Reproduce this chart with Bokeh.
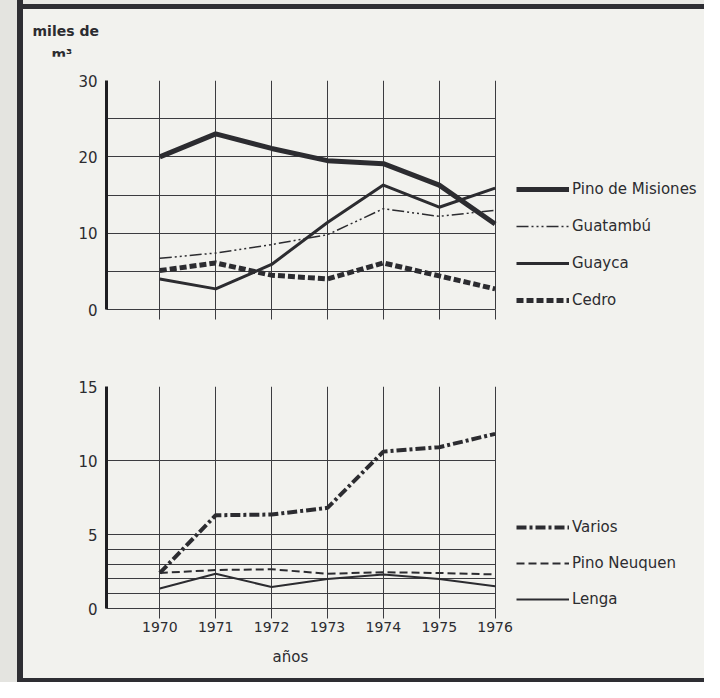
from bokeh.plotting import figure
from bokeh.layouts import row, column
from bokeh.models import (Range1d, FixedTicker, Legend, LegendItem, Title, Spacer)
from bokeh.embed import file_html
from bokeh.resources import INLINE

years = [1970, 1971, 1972, 1973, 1974, 1975, 1976]

# top panel (miles de m3)
pino_misiones = [20.0, 23.0, 21.1, 19.5, 19.1, 16.3, 11.2]
guatambu = [6.7, 7.4, 8.5, 9.8, 13.2, 12.2, 13.0]
guayca = [4.0, 2.7, 5.9, 11.4, 16.3, 13.4, 15.9]
cedro = [5.1, 6.1, 4.5, 4.0, 6.1, 4.4, 2.7]

# bottom panel
varios = [2.4, 6.3, 6.35, 6.8, 10.6, 10.9, 11.8]
pino_neuquen = [2.4, 2.6, 2.65, 2.35, 2.45, 2.4, 2.3]
lenga = [1.35, 2.35, 1.45, 2.0, 2.3, 2.0, 1.5]

top_axis_ticks = [0, 10, 20, 30]
top_grid_ticks = [0, 5, 10, 15, 20, 25, 30]
bot_axis_ticks = [0, 5, 10, 15]
bot_grid_ticks = [0, 1, 2, 3, 4, 5, 10, 15]

BG = "#f2f2ee"
INK = "#2c2c30"
GRID = "#3c3c40"
DARK = "#2e2e33"
FONT = "DejaVu Sans"


def base_fig(width, height, mbl, mbt, mbb, x0, x1, ymax, axis_ticks, grid_ticks, show_xlabels):
    p = figure(width=width, height=height, output_backend="svg", toolbar_location=None,
               x_range=Range1d(x0, x1), y_range=Range1d(0, ymax),
               min_border_left=mbl, min_border_right=0, min_border_top=mbt, min_border_bottom=mbb,
               background_fill_color=BG, border_fill_color=BG, tools="")
    p.title.visible = False
    p.outline_line_color = None
    p.xgrid.ticker = FixedTicker(ticks=years)
    p.ygrid.ticker = FixedTicker(ticks=grid_ticks)
    p.ygrid.cross_bounds = (x0, years[-1])
    for g in (p.xgrid, p.ygrid):
        g.grid_line_color = GRID
        g.grid_line_width = 1
        g.grid_line_alpha = 1
    ya = p.yaxis[0]
    ya.ticker = FixedTicker(ticks=axis_ticks)
    ya.bounds = (0, ymax)
    ya.axis_line_width = 3
    ya.axis_line_color = "#1e1e22"
    ya.major_tick_line_color = None
    ya.minor_tick_line_color = None
    ya.major_label_standoff = 3
    ya.major_label_text_font = FONT
    ya.major_label_text_font_size = "15px"
    ya.major_label_text_color = INK
    xa = p.xaxis[0]
    xa.ticker = FixedTicker(ticks=years)
    xa.bounds = (x0, years[-1])
    xa.axis_line_color = GRID
    xa.axis_line_width = 1
    xa.major_tick_line_color = GRID
    xa.major_tick_out = 10
    xa.major_tick_in = 0
    xa.minor_tick_line_color = None
    xa.major_label_standoff = 3
    xa.major_label_text_font = FONT
    xa.major_label_text_font_size = "14px"
    xa.major_label_text_color = INK if show_xlabels else None
    return p


def make_legend(items, loc, spacing):
    return Legend(items=items, location=loc, glyph_width=53, glyph_height=18, label_height=18,
                  spacing=spacing, padding=0, margin=0, label_standoff=3,
                  label_text_font=FONT, label_text_font_size="15px", label_text_color=INK,
                  background_fill_alpha=0, border_line_color=None)


# ---------- header (unit label) ----------
hdr = figure(width=681, height=31, output_backend="svg", toolbar_location=None, tools="",
             x_range=Range1d(0, 1), y_range=Range1d(0, 1),
             x_axis_type=None, y_axis_type=None, min_border=0,
             background_fill_color=BG, border_fill_color=BG)
hdr.outline_line_color = None
hdr.grid.visible = False
hdr.title.text = "miles de"
hdr.title.align = "left"
hdr.title.offset = -74
hdr.title.standoff = 0
hdr.title.text_font = FONT
hdr.title.text_font_size = "14px"
hdr.title.text_font_style = "bold"
hdr.title.text_color = INK
hdr.add_layout(Title(text="m³", align="left", offset=-55, standoff=0, text_font=FONT,
                     text_font_size="14px", text_font_style="bold", text_color=INK), "below")

# ---------- top ----------
p1 = base_fig(681, 288, 83, 24, 35, 1969.046, 1979.747, 30,
              top_axis_ticks, top_grid_ticks, False)
r_pm = p1.line(years, pino_misiones, line_color=INK, line_width=5, line_join="round")
r_gt = p1.line(years, guatambu, line_color=INK, line_width=1.5, line_dash="12 3 2 3 2 3 2 3")
r_gy = p1.line(years, guayca, line_color=INK, line_width=3, line_join="round")
r_ce = p1.line(years, cedro, line_color=INK, line_width=5, line_dash="7 3")

leg1 = make_legend([LegendItem(label="Pino de Misiones", renderers=[r_pm]),
                    LegendItem(label="Guatambú", renderers=[r_gt]),
                    LegendItem(label="Guayca", renderers=[r_gy]),
                    LegendItem(label="Cedro", renderers=[r_ce])], (410, 0), 19)
p1.add_layout(leg1)

# ---------- bottom ----------
p2 = base_fig(681, 334, 83, 42, 70, 1969.046, 1979.747, 15,
              bot_axis_ticks, bot_grid_ticks, True)
r_va = p2.line(years, varios, line_color=INK, line_width=4, line_dash="10 3 3 3")
r_pn = p2.line(years, pino_neuquen, line_color=INK, line_width=2, line_dash="8 4")
r_le = p2.line(years, lenga, line_color=INK, line_width=2, line_join="round")

leg2 = make_legend([LegendItem(label="Varios", renderers=[r_va]),
                    LegendItem(label="Pino Neuquen", renderers=[r_pn]),
                    LegendItem(label="Lenga", renderers=[r_le])], (410, 0), 18)
p2.add_layout(leg2)

p2.add_layout(Title(text="años", align="left", offset=166, standoff=22, text_font=FONT,
                    text_font_size="15px", text_font_style="normal", text_color=INK), "below")

layout = row(
    Spacer(width=17, height=682, styles={"background-color": "#e4e4e0"}),
    Spacer(width=6, height=682, styles={"background-color": DARK}),
    column(
        Spacer(width=681, height=4, styles={"background-color": "#e8e8e4"}),
        Spacer(width=681, height=5, styles={"background-color": DARK}),
        Spacer(width=681, height=16, styles={"background-color": BG}),
        hdr,
        p1,
        p2,
        Spacer(width=681, height=4, styles={"background-color": DARK}),
        spacing=0,
        styles={"background-color": BG},
    ),
    spacing=0,
)

open("out.html", "w").write(file_html(layout, INLINE))
